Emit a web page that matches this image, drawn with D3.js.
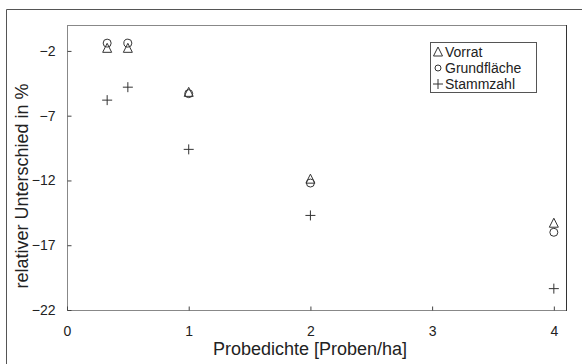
<!DOCTYPE html>
<html lang="de">
<head>
<meta charset="UTF-8">
<title>Probedichte</title>
<script src="https://d3js.org/d3.v7.min.js"></script>
<style>
    body { margin: 0; background: #fff; }
    svg { display: block; font-family: "Liberation Sans", Arial, sans-serif; }
    .frame { fill: none; stroke: #666; stroke-width: 1; }
    .tick text { fill: #222; font-size: 14px; font-family: "Liberation Sans", Arial, sans-serif; }
    .mark { fill: none; stroke: #333; stroke-width: 1; }
</style>
</head>
<body>
<svg width="582" height="364"></svg>
<script>
    // values
    const dichte = [0.33, 0.5, 1, 2, 4];
    const vorrat = [-1.8, -1.8, -5.2, -11.9, -15.3];
    const grundflaeche = [-1.4, -1.4, -5.3, -12.2, -16.0];
    const stammzahl = [-5.8, -4.8, -9.6, -14.7, -20.35];
    const xTicks = [0, 1, 2, 3, 4];
    const yTicks = [-2, -7, -12, -17, -22];

    const series = [
        { name: "Vorrat", sym: "triangle", values: vorrat },
        { name: "Grundfläche", sym: "circle", values: grundflaeche },
        { name: "Stammzahl", sym: "plus", values: stammzahl }
    ];

    const svg = d3.select("svg");
    const m = { left: 67, top: 25, right: 566, bottom: 310 };

    const x = d3.scaleLinear().domain([0, 4.1]).range([m.left, m.right]);
    const y = d3.scaleLinear().domain([-22, 0]).range([m.bottom, m.top]);

    // outer frame (cut off at right/bottom)
    svg.append("path").attr("class", "frame")
        .attr("d", "M6.5,370V9.5H590").style("stroke", "#555");

    // plot box
    svg.append("rect").attr("class", "frame")
        .attr("x", m.left + 0.5).attr("y", m.top + 0.5)
        .attr("width", m.right - m.left).attr("height", m.bottom - m.top)
        .style("stroke", "#888");
    svg.append("line").attr("x1", m.right + 0.5).attr("x2", m.right + 0.5)
        .attr("y1", m.top).attr("y2", m.bottom + 1)
        .attr("stroke", "#333");

    // axes, ticks pointing inward
    const xAxis = svg.append("g").attr("transform", `translate(0,${m.bottom + 0.5})`)
        .call(d3.axisBottom(x).tickValues(xTicks).tickSize(-4).tickPadding(16).tickFormat(d3.format("d")));
    const yAxis = svg.append("g").attr("transform", `translate(${m.left + 0.5},0)`)
        .call(d3.axisLeft(y).tickValues(yTicks).tickSize(-4).tickPadding(12).tickFormat(d3.format("d")));
    [xAxis, yAxis].forEach(g => {
        g.select(".domain").remove();
        g.selectAll(".tick line").attr("stroke", "#444");
    });

    // axis titles
    svg.append("text")
        .attr("x", 310).attr("y", 355)
        .attr("text-anchor", "middle").attr("font-size", 18).attr("fill", "#222")
        .text("Probedichte [Proben/ha]");
    svg.append("text")
        .attr("transform", "translate(28,186) rotate(-90)")
        .attr("text-anchor", "middle").attr("font-size", 18).attr("fill", "#222")
        .text("relativer Unterschied in %");

    function marker(g, sym, cx, cy) {
        if (sym === "triangle") {
            g.append("path").attr("class", "mark")
                .attr("d", `M${cx},${cy - 5}L${cx + 4.5},${cy + 4}L${cx - 4.5},${cy + 4}Z`);
        } else if (sym === "circle") {
            g.append("circle").attr("class", "mark").attr("cx", cx).attr("cy", cy).attr("r", 4);
        } else {
            g.append("path").attr("class", "mark")
                .attr("d", `M${cx - 5},${cy}H${cx + 5}M${cx},${cy - 5}V${cy + 5}`);
        }
    }

    const pts = svg.append("g");
    series.forEach(s => {
        s.values.forEach((v, i) => marker(pts, s.sym, x(dichte[i]), y(v)));
    });

    // legend
    const lg = svg.append("g");
    lg.append("rect").attr("class", "frame")
        .attr("x", 430.5).attr("y", 42.5).attr("width", 106).attr("height", 50)
        .style("stroke", "#555");
    series.forEach((s, i) => {
        const ly = 52 + i * 16;
        marker(lg, s.sym, 438, ly);
        lg.append("text").attr("x", 445).attr("y", ly + 5)
            .attr("font-size", 14).attr("fill", "#222").text(s.name);
    });
    // smaller legend symbols
    lg.selectAll("circle.mark").attr("r", 3);
</script>
</body>
</html>
